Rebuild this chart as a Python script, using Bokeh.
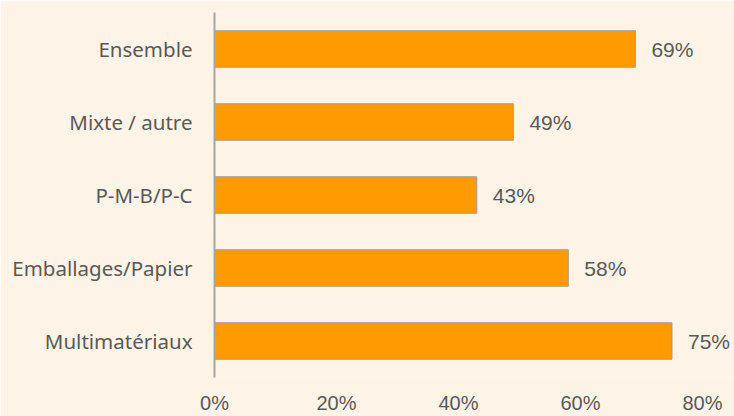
from bokeh.plotting import figure
from bokeh.models import ColumnDataSource, FixedTicker, NumeralTickFormatter, Range1d
from bokeh.core.properties import value
from bokeh.embed import file_html
from bokeh.resources import INLINE

categories = ["Ensemble", "Mixte / autre", "P-M-B/P-C", "Emballages/Papier", "Multimatériaux"]
values = [0.69, 0.49, 0.43, 0.58, 0.75]
value_labels = ["69%", "49%", "43%", "58%", "75%"]
x_ticks = [0, 0.2, 0.4, 0.6, 0.8]

BG = "#FDF3E6"
BAR = "#FF9A00"
TXT = "#595959"

factors = list(reversed(categories))
src = ColumnDataSource(dict(cat=categories, val=values, lab=value_labels))

p = figure(width=734, height=416, y_range=factors, x_range=Range1d(0, 0.8525),
           output_backend="svg", toolbar_location=None,
           background_fill_color=BG, border_fill_color=BG, outline_line_color=None,
           min_border_left=214, min_border_top=12, min_border_right=0, min_border_bottom=0)

p.hbar(y="cat", right="val", left=0, height=0.5, source=src,
       fill_color=BAR, line_color="#A89B8C", line_width=1)
p.text(x="val", y="cat", text="lab", source=src, x_offset=16,
       text_align="left", text_baseline="middle",
       text_font=value("Liberation Sans"), text_font_size="21px", text_color=TXT)

p.grid.visible = False

xa = p.xaxis[0]
xa.ticker = FixedTicker(ticks=x_ticks)
xa.formatter = NumeralTickFormatter(format="0%")
xa.axis_line_color = None
xa.major_tick_line_color = None
xa.minor_tick_line_color = None
xa.major_label_standoff = 8
xa.major_label_text_font = "Liberation Sans"
xa.major_label_text_font_size = "20px"
xa.major_label_text_color = TXT

ya = p.yaxis[0]
ya.axis_line_color = "#A6A6A6"
ya.axis_line_width = 2
ya.major_tick_line_color = None
ya.minor_tick_line_color = None
ya.major_label_standoff = 16
ya.major_label_text_font = "Noto Sans"
ya.major_label_text_font_size = "20.5px"
ya.major_label_text_color = TXT

open("out.html", "w").write(file_html(p, INLINE))
